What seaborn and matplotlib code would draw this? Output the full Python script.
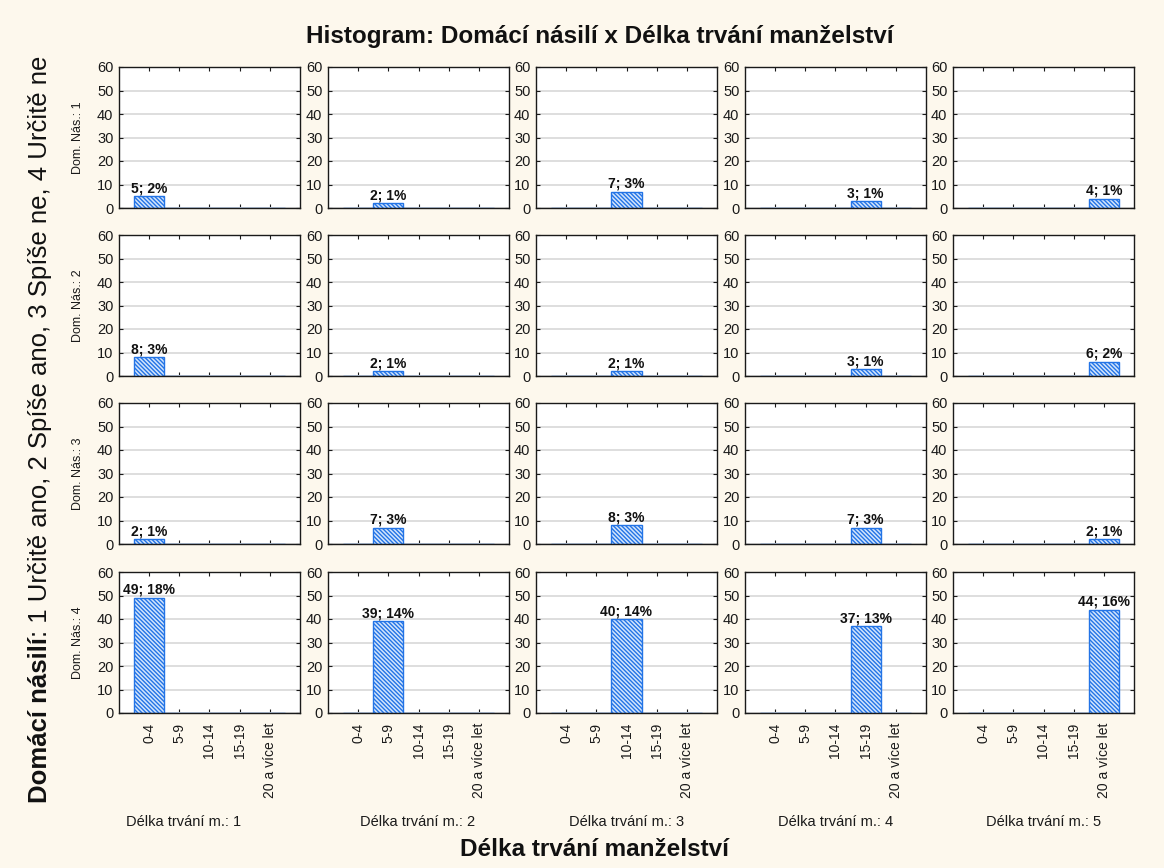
import numpy as np
import pandas as pd
import matplotlib
matplotlib.use("Agg")
import matplotlib.pyplot as plt
import seaborn as sns

# --------------------------------------------
# Data (counts)
# --------------------------------------------
categories = ["0-4", "5-9", "10-14", "15-19", "20 a více let"]
row_labels = ["Dom. Nás.: 1", "Dom. Nás.: 2", "Dom. Nás.: 3", "Dom. Nás.: 4"]
col_labels = ["Délka trvání m.: 1", "Délka trvání m.: 2", "Délka trvání m.: 3",
              "Délka trvání m.: 4", "Délka trvání m.: 5"]

# counts per row (Dom. Nás.) and column (Délka trvání m.)
counts_nas1 = [5, 2, 7, 3, 4]
counts_nas2 = [8, 2, 2, 3, 6]
counts_nas3 = [2, 7, 8, 7, 2]
counts_nas4 = [49, 39, 40, 37, 44]

pct_nas1 = [2, 1, 3, 1, 1]
pct_nas2 = [3, 1, 1, 1, 2]
pct_nas3 = [1, 3, 3, 3, 1]
pct_nas4 = [18, 14, 14, 13, 16]

counts = [counts_nas1, counts_nas2, counts_nas3, counts_nas4]
pcts = [pct_nas1, pct_nas2, pct_nas3, pct_nas4]

# --------------------------------------------
# Style
# --------------------------------------------
sns.set_style("white")
plt.rcParams['font.family'] = ['Liberation Sans', 'DejaVu Sans']
plt.rcParams['hatch.linewidth'] = 1.0

bg = "#fdf8ed"
edge = "#2374e6"
face = "#d3e5fc"

W, H = 1164, 868
fig = plt.figure(figsize=(W / 100, H / 100), dpi=100, facecolor=bg)

col_left = [119, 328, 536, 745, 953]
row_top = [67, 235, 403, 572]
ax_w, ax_h = 181, 141

for r in range(4):
    for c in range(5):
        ax = fig.add_axes([col_left[c] / W, 1 - (row_top[r] + ax_h) / H, ax_w / W, ax_h / H])
        vals = [counts[r][c] if k == c else 0 for k in range(5)]
        df = pd.DataFrame({"cat": categories, "n": vals})
        sns.barplot(data=df, x="cat", y="n", order=categories, ax=ax,
                    color=face, saturation=1, width=1.0, edgecolor=edge,
                    linewidth=1.0, hatch="\\\\\\\\\\\\\\\\")
        ax.text(c, counts[r][c] + 0.4, f"{counts[r][c]}; {pcts[r][c]}%",
                ha="center", va="bottom", fontsize=10, fontweight="bold", color="#111111")
        ax.set_xlim(-1, 5)
        ax.set_ylim(0, 60)
        ax.set_yticks([0, 10, 20, 30, 40, 50, 60])
        ax.yaxis.grid(True, color="#dedede", linewidth=1.4)
        ax.set_axisbelow(True)
        ax.set_facecolor("white")
        for s in ax.spines.values():
            s.set_color("#1a1a1a")
            s.set_linewidth(1.0)
        ax.tick_params(direction="in", length=3, width=0.8, top=True, right=True,
                       left=True, bottom=True, labelsize=10.5, colors="#1a1a1a")
        ax.tick_params(axis="y", pad=4)
        ax.set_xlabel("")
        ax.set_ylabel("")
        ax.set_xticks(range(5))
        if r == 3:
            ax.set_xticklabels(categories, rotation=90, fontsize=10)
            ax.tick_params(axis="x", pad=7)
        else:
            ax.set_xticklabels([])

# row labels
for r in range(4):
    yc = 1 - (row_top[r] + ax_h / 2) / H
    fig.text(78 / W, yc, row_labels[r], rotation=90, ha="center", va="center",
             fontsize=9, color="#1a1a1a")

# column labels
col_centers = [184, 418, 627, 836, 1044]
for c in range(5):
    fig.text(col_centers[c] / W, 1 - 822 / H, col_labels[c], ha="center",
             va="center", fontsize=10.5, color="#1a1a1a")

# titles
fig.text(600 / W, 1 - 37 / H, "Histogram: Domácí násilí x Délka trvání manželství",
         ha="center", va="center", fontsize=17.5, fontweight="bold", color="#111111")
fig.text(594 / W, 1 - 850 / H, "Délka trvání manželství",
         ha="center", va="center", fontsize=17.5, fontweight="bold", color="#111111")

# left label: bold part + normal part
x0, y0 = 47 / W, 1 - 803 / H
t1 = fig.text(x0, y0, "Domácí násilí", rotation=90, rotation_mode="anchor",
              ha="left", va="baseline", fontsize=18.5, fontweight="bold", color="#111111")
fig.canvas.draw()
bb = t1.get_window_extent()
t2 = fig.text(x0, bb.y1 / H, ": 1 Určitě ano, 2 Spíše ano, 3 Spíše ne, 4 Určitě ne",
              rotation=90, rotation_mode="anchor", ha="left", va="baseline",
              fontsize=18.5, color="#111111")

plt.savefig("out.png", dpi=100, facecolor=bg)
